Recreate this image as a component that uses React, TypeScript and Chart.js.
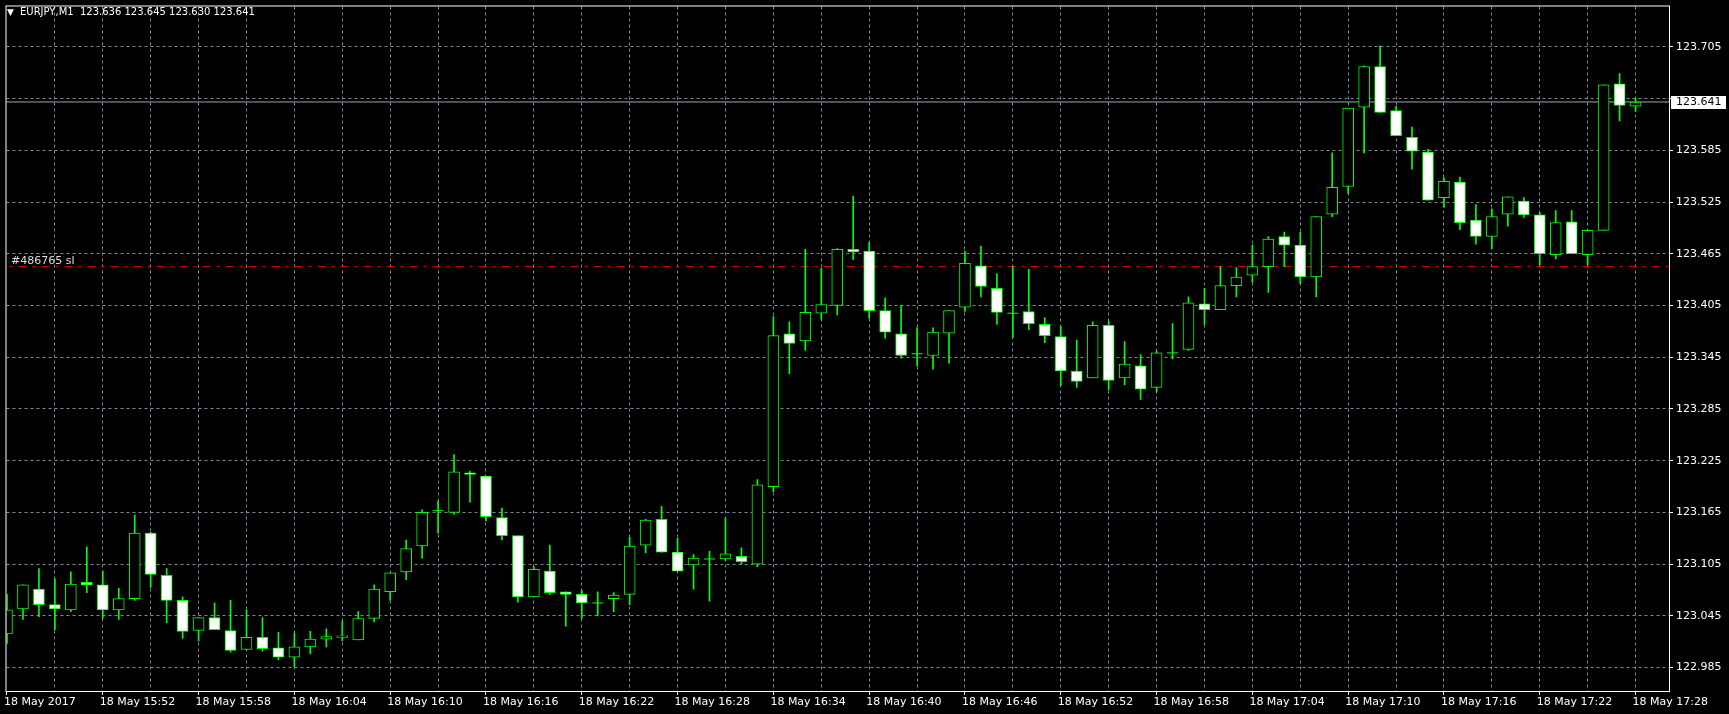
import { useEffect, useRef } from "react";
import { Chart, registerables } from "chart.js";
Chart.register(...registerables);

const SYMBOL = "EURJPY,M1";

// one bar per minute, 18 May 2017 15:46 .. 17:28
const OPEN = [
  123.024, 123.053, 123.076, 123.058, 123.052, 123.084, 123.081, 123.052, 123.065, 123.141,
  123.092, 123.063, 123.028, 123.043, 123.028, 123.006, 123.020, 123.008, 122.997, 123.009,
  123.018, 123.020, 123.017, 123.042, 123.073, 123.096, 123.126, 123.167, 123.165, 123.211,
  123.207, 123.159, 123.138, 123.067, 123.097, 123.073, 123.070, 123.060, 123.065, 123.070,
  123.127, 123.157, 123.119, 123.104, 123.111, 123.111, 123.114, 123.105, 123.195, 123.372,
  123.364, 123.396, 123.405, 123.470, 123.468, 123.399, 123.372, 123.349, 123.347, 123.373,
  123.403, 123.451, 123.425, 123.396, 123.398, 123.383, 123.369, 123.329, 123.321, 123.382,
  123.321, 123.335, 123.310, 123.350, 123.354, 123.407, 123.400, 123.428, 123.440, 123.450,
  123.485, 123.475, 123.438, 123.511, 123.543, 123.635, 123.682, 123.631, 123.600, 123.583,
  123.530, 123.548, 123.504, 123.485, 123.511, 123.526, 123.510, 123.464, 123.502, 123.464,
  123.492, 123.662, 123.636,
];
const HIGH = [
  123.070, 123.081, 123.100, 123.088, 123.096, 123.125, 123.097, 123.077, 123.162, 123.142,
  123.100, 123.067, 123.043, 123.060, 123.063, 123.052, 123.043, 123.026, 123.025, 123.027,
  123.030, 123.039, 123.050, 123.081, 123.095, 123.133, 123.168, 123.178, 123.232, 123.213,
  123.207, 123.170, 123.138, 123.102, 123.127, 123.073, 123.075, 123.073, 123.072, 123.136,
  123.157, 123.172, 123.135, 123.116, 123.120, 123.158, 123.124, 123.203, 123.392, 123.386,
  123.470, 123.448, 123.471, 123.532, 123.478, 123.414, 123.405, 123.379, 123.379, 123.399,
  123.468, 123.474, 123.442, 123.450, 123.447, 123.391, 123.381, 123.365, 123.386, 123.387,
  123.363, 123.348, 123.352, 123.384, 123.415, 123.425, 123.450, 123.449, 123.475, 123.485,
  123.490, 123.490, 123.508, 123.582, 123.634, 123.683, 123.706, 123.636, 123.612, 123.586,
  123.553, 123.554, 123.522, 123.517, 123.531, 123.530, 123.513, 123.515, 123.515, 123.492,
  123.661, 123.674, 123.645,
];
const LOW = [
  123.013, 123.041, 123.044, 123.029, 123.050, 123.072, 123.042, 123.041, 123.063, 123.078,
  123.037, 123.019, 123.016, 123.029, 123.003, 123.006, 123.004, 122.994, 122.986, 123.001,
  123.009, 123.016, 123.017, 123.038, 123.063, 123.087, 123.112, 123.141, 123.163, 123.177,
  123.155, 123.133, 123.061, 123.067, 123.070, 123.033, 123.042, 123.045, 123.050, 123.058,
  123.118, 123.119, 123.097, 123.076, 123.062, 123.109, 123.105, 123.102, 123.189, 123.326,
  123.353, 123.389, 123.394, 123.458, 123.390, 123.367, 123.344, 123.335, 123.331, 123.338,
  123.398, 123.415, 123.383, 123.368, 123.377, 123.362, 123.312, 123.310, 123.321, 123.307,
  123.313, 123.296, 123.305, 123.343, 123.353, 123.383, 123.400, 123.415, 123.432, 123.420,
  123.450, 123.430, 123.415, 123.508, 123.535, 123.582, 123.629, 123.602, 123.563, 123.527,
  123.519, 123.493, 123.476, 123.471, 123.497, 123.507, 123.452, 123.459, 123.465, 123.452,
  123.492, 123.619, 123.630,
];
const CLOSE = [
  123.052, 123.081, 123.058, 123.053, 123.082, 123.081, 123.052, 123.065, 123.141, 123.093,
  123.063, 123.027, 123.043, 123.029, 123.005, 123.020, 123.007, 122.997, 123.009, 123.018,
  123.021, 123.022, 123.042, 123.076, 123.095, 123.123, 123.165, 123.167, 123.212, 123.209,
  123.160, 123.138, 123.067, 123.099, 123.072, 123.070, 123.060, 123.060, 123.069, 123.126,
  123.156, 123.119, 123.097, 123.112, 123.111, 123.117, 123.108, 123.197, 123.370, 123.361,
  123.397, 123.406, 123.470, 123.467, 123.399, 123.374, 123.347, 123.349, 123.374, 123.399,
  123.454, 123.427, 123.397, 123.396, 123.384, 123.370, 123.329, 123.317, 123.382, 123.318,
  123.337, 123.308, 123.350, 123.350, 123.408, 123.400, 123.428, 123.438, 123.450, 123.482,
  123.475, 123.438, 123.508, 123.542, 123.634, 123.682, 123.629, 123.602, 123.584, 123.527,
  123.549, 123.501, 123.485, 123.508, 123.531, 123.510, 123.465, 123.501, 123.465, 123.492,
  123.661, 123.637, 123.641,
];

// time labels, one every 6 bars
const TIME_LABELS = [
  "18 May 2017", "18 May 15:52", "18 May 15:58", "18 May 16:04", "18 May 16:10", "18 May 16:16",
  "18 May 16:22", "18 May 16:28", "18 May 16:34", "18 May 16:40", "18 May 16:46", "18 May 16:52",
  "18 May 16:58", "18 May 17:04", "18 May 17:10", "18 May 17:16", "18 May 17:22", "18 May 17:28",
];
const PRICE_TICKS = [
  122.985, 123.045, 123.105, 123.165, 123.225, 123.285, 123.345,
  123.405, 123.465, 123.525, 123.585, 123.645, 123.705,
];
const SL_PRICE = 123.45;
const SL_LABEL = "#486765 sl";

// layout
const W = 1729;
const H = 714;
const PLOT_LEFT = 3;
const PLOT_TOP = 3;
const PLOT_RIGHT = 1669;
const PLOT_BOTTOM = 691;
const BAR_PX = 16;
const X_MIN = -(3.5 - PLOT_LEFT) / BAR_PX;
const X_MAX = X_MIN + (PLOT_RIGHT - PLOT_LEFT) / BAR_PX;
const PX_PER_PRICE = 52 / 0.06;
const Y_MAX = 123.705 + (43.5 - PLOT_TOP) / PX_PER_PRICE;
const Y_MIN = 123.705 - (PLOT_BOTTOM - 43.5) / PX_PER_PRICE;

const LIME = "#00ff00";
const GRID = "#778899";
const FONT = "DejaVu Sans";

export default function App() {
  const ref = useRef<HTMLCanvasElement>(null);
  useEffect(() => {
    document.body.style.margin = "0";
    document.body.style.background = "#000";
    const last = CLOSE.length - 1;
    const fmt = (v: number) => v.toFixed(3);

    const overlay = {
      id: "mt4overlay",
      beforeDraw(chart: any) {
        const c = chart.ctx;
        c.save();
        c.fillStyle = "#000";
        c.fillRect(0, 0, chart.width, chart.height);
        c.restore();
      },
      afterDraw(chart: any) {
        const c = chart.ctx;
        const a = chart.chartArea;
        const ys = chart.scales.y;
        c.save();
        // frame
        c.strokeStyle = "#ffffff";
        c.lineWidth = 1;
        c.strokeRect(a.left - 0.5, a.top - 0.5, a.right - a.left + 1, a.bottom - a.top + 1);
        // header
        c.fillStyle = "#ffffff";
        c.textBaseline = "middle";
        c.textAlign = "left";
        c.font = `9px ${FONT}`;
        c.fillText("▼", 7, 12.5);
        c.font = `10px ${FONT}`;
        c.fillText(
          `${SYMBOL}  ${fmt(OPEN[last])} ${fmt(HIGH[last])} ${fmt(LOW[last])} ${fmt(CLOSE[last])}`,
          20,
          12.5
        );
        // SL label
        const sly = ys.getPixelForValue(SL_PRICE);
        c.font = `11px ${FONT}`;
        c.fillStyle = "#dddddd";
        c.fillText(SL_LABEL, 11, sly - 6);
        // last price label
        const py = Math.round(ys.getPixelForValue(CLOSE[last]));
        c.fillStyle = "#ffffff";
        c.fillRect(a.right + 2, py - 6, 55, 13);
        c.fillStyle = "#000000";
        c.fillText(fmt(CLOSE[last]), a.right + 7, py + 0.5);
        c.restore();
      },
    };

    const idx = OPEN.map((_, i) => i);
    const chart = new Chart(ref.current as HTMLCanvasElement, {
      type: "bar",
      data: {
        datasets: [
          {
            type: "line",
            data: idx.filter((i) => OPEN[i] === CLOSE[i]).map((i) => ({ x: i, y: OPEN[i] })),
            showLine: false,
            pointStyle: "line",
            pointRadius: 5.5,
            pointBorderColor: LIME,
            pointBorderWidth: 1,
            order: 0,
          } as any,
          {
            type: "bar",
            data: idx.map((i) => ({ x: i, y: [OPEN[i], CLOSE[i]] })),
            backgroundColor: idx.map((i) => (CLOSE[i] > OPEN[i] ? "#000000" : "#ffffff")),
            borderColor: LIME,
            borderWidth: 1,
            borderSkipped: false,
            barThickness: 11,
            grouped: false,
            order: 1,
          } as any,
          {
            type: "bar",
            data: idx.map((i) => ({ x: i, y: [LOW[i], HIGH[i]] })),
            backgroundColor: LIME,
            borderWidth: 0,
            barThickness: 1,
            grouped: false,
            order: 2,
          } as any,
          {
            type: "line",
            data: [
              { x: X_MIN - 5, y: CLOSE[last] },
              { x: X_MAX + 5, y: CLOSE[last] },
            ],
            borderColor: "#a0a8b4",
            borderWidth: 1,
            pointRadius: 0,
            order: 3,
          } as any,
          {
            type: "line",
            data: [
              { x: X_MIN - 5, y: SL_PRICE },
              { x: X_MAX + 5, y: SL_PRICE },
            ],
            borderColor: "#ff0000",
            borderWidth: 1,
            borderDash: [8, 6, 3, 6],
            pointRadius: 0,
            order: 4,
          } as any,
        ],
      },
      options: {
        responsive: false,
        maintainAspectRatio: false,
        animation: false,
        devicePixelRatio: 1,
        events: [],
        layout: { padding: { left: PLOT_LEFT, top: PLOT_TOP, right: 0, bottom: 0 } },
        plugins: { legend: { display: false }, tooltip: { enabled: false }, title: { display: false } },
        scales: {
          x: {
            type: "linear",
            position: "bottom",
            offset: false,
            min: X_MIN,
            max: X_MAX,
            afterBuildTicks: (s: any) => {
              const t = [];
              for (let k = 0; k < OPEN.length; k += 3) t.push({ value: k });
              s.ticks = t;
            },
            afterFit: (s: any) => {
              s.height = H - PLOT_BOTTOM;
              s.paddingLeft = 0;
              s.paddingRight = 0;
            },
            grid: {
              offset: false,
              color: (ctx: any) => (ctx.tick && ctx.tick.value === 0 ? "rgba(0,0,0,0)" : GRID),
              tickColor: (ctx: any) =>
                ctx.tick && ctx.tick.value % 6 === 0 ? "#ffffff" : "rgba(0,0,0,0)",
              tickLength: 4,
              lineWidth: 1,
            },
            border: { display: false, dash: [3, 3] },
            ticks: {
              autoSkip: false,
              maxRotation: 0,
              minRotation: 0,
              align: "start",
              labelOffset: -3,
              padding: 1,
              color: "#ffffff",
              font: { family: FONT, size: 11 },
              callback: (v: any) => (v % 6 === 0 ? TIME_LABELS[v / 6] : ""),
            },
          },
          y: {
            type: "linear",
            position: "right",
            min: Y_MIN,
            max: Y_MAX,
            afterBuildTicks: (s: any) => {
              s.ticks = PRICE_TICKS.map((v) => ({ value: v }));
            },
            afterFit: (s: any) => {
              s.width = W - PLOT_RIGHT;
              s.paddingTop = 0;
              s.paddingBottom = 0;
            },
            grid: { color: GRID, tickColor: "#ffffff", tickLength: 4, lineWidth: 1 },
            border: { display: false, dash: [3, 3] },
            ticks: {
              autoSkip: false,
              padding: 3,
              color: "#ffffff",
              font: { family: FONT, size: 11 },
              // the last-price box covers a tick label that sits too close to it
              callback: (v: any) =>
                Math.abs(Number(v) - CLOSE[CLOSE.length - 1]) * PX_PER_PRICE < 13
                  ? ""
                  : Number(v).toFixed(3),
            },
          },
        },
      } as any,
      plugins: [overlay],
    });
    return () => chart.destroy();
  }, []);
  return <canvas ref={ref} width={W} height={H} style={{ display: "block" }} />;
}
